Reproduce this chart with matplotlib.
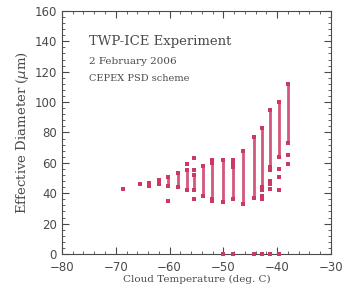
import matplotlib.pyplot as plt
from matplotlib.ticker import MultipleLocator

# column temperatures (deg C) and the dense range of effective diameter in each
temps = [-68.6, -65.5, -63.9, -62.0, -60.2, -58.5, -56.8, -55.4, -53.7,
         -52.1, -50.1, -48.2, -46.3, -44.4, -42.9, -41.3, -39.6, -37.9]
low = [43, 46, 45, 46, 45, 44, 42, 42, 38, 36, 34, 36, 33, 37, 44, 57, 64, 73]
high = [43, 46, 47, 49, 51, 53, 55, 52, 58, 60, 62, 57, 68, 77, 83, 95, 100, 112]

# scattered points outside the dense ranges
out_t = [-60.2, -56.8, -55.4, -55.4, -55.4, -52.1, -52.1, -48.2, -48.2,
         -42.9, -42.9, -42.9, -41.3, -41.3, -41.3, -41.3,
         -39.6, -39.6, -39.6, -37.9, -37.9,
         -50.1, -48.2, -44.4, -42.9, -41.3, -39.6]
out_d = [35, 59, 63, 55, 36, 62, 35, 62, 59,
         42, 38, 36, 55, 48, 46, 43,
         56, 51, 42, 65, 59,
         0, 0, 0, 0, 0, 0]

col = "#cc3a64"
gray = "#4a4a4a"

fig = plt.figure(figsize=(3.54, 2.95), dpi=100)
ax = fig.add_axes([0.175, 0.139, 0.76, 0.824])

ax.vlines(temps, low, high, color=col, lw=2.0, alpha=0.85)
ax.scatter(temps, low, s=6, color=col, marker="s", lw=0)
ax.scatter(temps, high, s=6, color=col, marker="s", lw=0)
ax.scatter(out_t, out_d, s=6, color=col, marker="s", lw=0, clip_on=False,
           zorder=5)

ax.set_xlim(-80, -30)
ax.set_ylim(0, 160)
ax.xaxis.set_major_locator(MultipleLocator(10))
ax.xaxis.set_minor_locator(MultipleLocator(2))
ax.yaxis.set_major_locator(MultipleLocator(20))
ax.yaxis.set_minor_locator(MultipleLocator(4))
ax.tick_params(which="both", direction="in", top=True, right=True, colors=gray,
               labelcolor=gray, labelsize=8.5)
ax.tick_params(axis="x", pad=5)
ax.tick_params(which="major", length=5, width=0.8)
ax.tick_params(which="minor", length=2.5, width=0.6)
for s in ax.spines.values():
    s.set_color(gray)
    s.set_linewidth(0.8)

ax.set_xlabel("Cloud Temperature (deg. C)", family="DejaVu Serif", fontsize=7.5,
              color=gray, labelpad=1)
ax.set_ylabel("Effective Diameter ($\\mu$m)", family="DejaVu Serif", fontsize=9.5,
              color=gray, labelpad=3)

ax.text(-75, 140, "TWP-ICE Experiment", family="DejaVu Serif", fontsize=9.5,
        color=gray, va="center")
ax.text(-75, 127, "2 February 2006", family="DejaVu Serif", fontsize=7.5,
        color=gray, va="center")
ax.text(-75, 115.5, "CEPEX PSD scheme", family="DejaVu Serif", fontsize=7,
        color=gray, va="center")

fig.savefig("out.png", dpi=100)
